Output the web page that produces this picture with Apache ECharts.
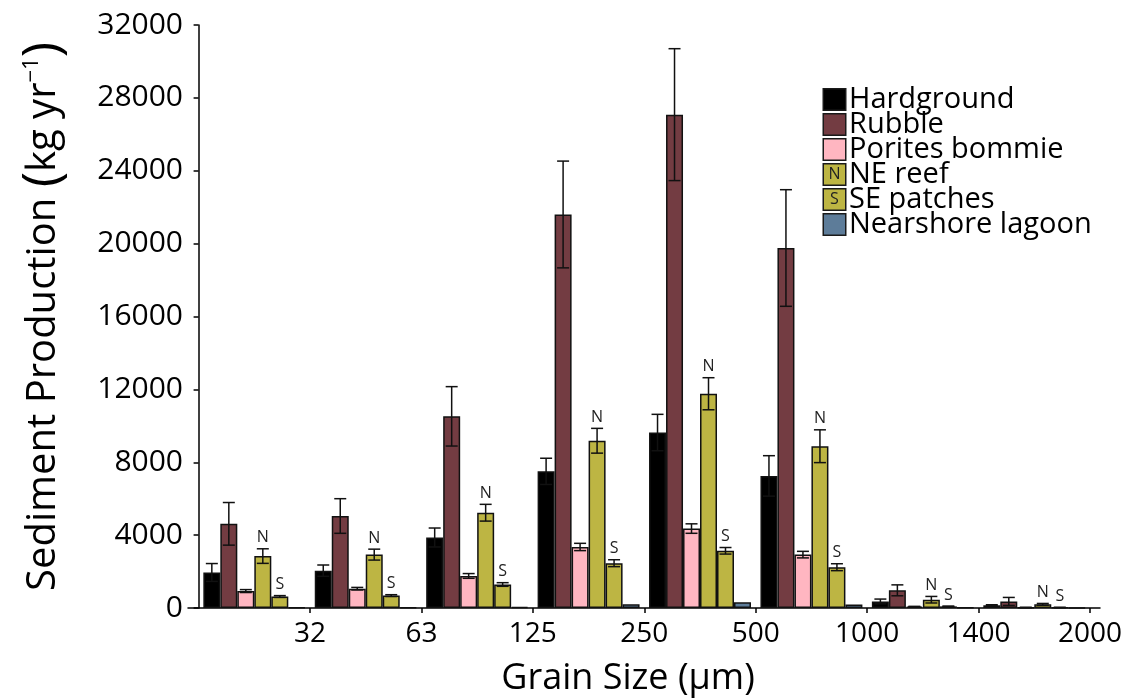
<!DOCTYPE html>
<html>
<head>
<meta charset="utf-8">
<script src="https://cdn.jsdelivr.net/npm/echarts@6/dist/echarts.min.js"></script>
<style>
  html, body { margin: 0; padding: 0; background: #fff; }
  #chart { width: 1130px; height: 700px; }
</style>
</head>
<body>
<div id="chart"></div>
<script>
// Grain size classes (upper bound of each class is the tick label at its right edge)
const sizeClasses = ['<32', '32-63', '63-125', '125-250', '250-500', '500-1000', '1000-1400', '1400-2000'];
const grainTicks = ['32', '63', '125', '250', '500', '1000', '1400', '2000'];
const yTicks = [0, 4000, 8000, 12000, 16000, 20000, 24000, 28000, 32000];

// Sediment production (kg/yr) per habitat, with error half-widths
const hardground    = [1950, 2050, 3870, 7500, 9630, 7250, 360, 150];
const hardgroundErr = [490, 310, 520, 720, 1000, 1110, 130, 30];
const rubble        = [4620, 5050, 10520, 21600, 27080, 19760, 970, 360];
const rubbleErr     = [1170, 950, 1630, 2930, 3620, 3200, 300, 220];
const porites       = [930, 1060, 1760, 3350, 4360, 2930, 80, 30];
const poritesErr    = [80, 70, 130, 200, 260, 180, 10, 5];
const neReef        = [2850, 2930, 5230, 9180, 11760, 8880, 455, 200];
const neReefErr     = [400, 300, 460, 680, 880, 900, 180, 50];
const sePatches     = [630, 680, 1290, 2460, 3140, 2240, 90, 30];
const sePatchesErr  = [50, 50, 100, 190, 180, 190, 15, 5];
const lagoon        = [40, 40, 60, 200, 310, 190, 20, 10];

const seriesNames = ['Hardground', 'Rubble', 'Porites bommie', 'NE reef', 'SE patches', 'Nearshore lagoon'];
const seriesColors = ['#000000', '#733c42', '#ffb6c1', '#bdb543', '#bdb543', '#5d7c99'];
const seriesTags = ['', '', '', 'N', 'S', ''];
const seriesValues = [hardground, rubble, porites, neReef, sePatches, lagoon];
const seriesErrors = [hardgroundErr, rubbleErr, poritesErr, neReefErr, sePatchesErr, null];

const FONT = 'Open Sans';
const CAT_GAP = 0.085;

const chart = echarts.init(document.getElementById('chart'), null, { renderer: 'canvas' });

const barSeries = seriesNames.map((name, i) => ({
  name: name,
  type: 'bar',
  xAxisIndex: 0,
  yAxisIndex: 0,
  data: seriesValues[i],
  barGap: 0,
  barCategoryGap: (CAT_GAP * 100) + '%',
  itemStyle: { color: seriesColors[i], borderColor: '#111', borderWidth: 1.5 },
  emphasis: { disabled: true },
  z: 2
}));

// Error bars (and the N / S markers above the reef bars) drawn through the axes
function errorSeries(idx) {
  const vals = seriesValues[idx];
  const errs = seriesErrors[idx];
  const tag = seriesTags[idx];
  return {
    type: 'custom',
    xAxisIndex: 0,
    yAxisIndex: 0,
    z: 5,
    silent: true,
    data: vals.map((v, i) => [i, v, errs[i]]),
    encode: { x: 0, y: 1 },
    renderItem: function (params, api) {
      const cat = api.value(0);
      const v = api.value(1);
      const e = api.value(2);
      const band = api.size([1, 0])[0];
      const inner = band * (1 - CAT_GAP);
      const bw = inner / seriesNames.length;
      const cx = api.coord([cat, 0])[0] - inner / 2 + bw * (idx + 0.5);
      const yTop = api.coord([cat, v + e])[1];
      const yBot = api.coord([cat, Math.max(v - e, 0)])[1];
      const cap = 6;
      const ls = { stroke: '#111', lineWidth: 1.5 };
      const children = [
        { type: 'line', shape: { x1: cx, y1: yTop, x2: cx, y2: yBot }, style: ls },
        { type: 'line', shape: { x1: cx - cap, y1: yTop, x2: cx + cap, y2: yTop }, style: ls },
        { type: 'line', shape: { x1: cx - cap, y1: yBot, x2: cx + cap, y2: yBot }, style: ls }
      ];
      if (tag) {
        children.push({
          type: 'text',
          style: {
            x: cx, y: yTop - 3, text: tag,
            fill: '#222', fontSize: 16, fontFamily: FONT,
            align: 'center', verticalAlign: 'bottom'
          }
        });
      }
      return { type: 'group', children: children };
    }
  };
}

const errSeries = [0, 1, 2, 3, 4].map(errorSeries);

// Legend entries: coloured box (with N / S marker where used) followed by the name
const legendRich = { txt: { fontSize: 29, fontFamily: FONT, color: '#000', lineHeight: 21, padding: [0, 0, 0, 4] } };
seriesNames.forEach((n, i) => {
  legendRich['b' + i] = {
    width: 21, height: 20, backgroundColor: seriesColors[i],
    borderColor: '#1a1a1a', borderWidth: 1.5,
    align: 'center', fontSize: 16, fontFamily: FONT, color: '#222', lineHeight: 20
  };
});

const option = {
  animation: false,
  backgroundColor: '#fff',
  grid: [
    { left: 198.6, right: 40, top: 25, bottom: 92, outerBoundsMode: 'none', containLabel: false },
    { left: 188, right: 30, top: 25, bottom: 92, outerBoundsMode: 'none', containLabel: false }
  ],
  legend: {
    orient: 'vertical',
    left: 813,
    top: 80,
    itemGap: -4,
    itemWidth: 0,
    itemHeight: 0,
    icon: 'rect',
    selectedMode: false,
    data: seriesNames,
    formatter: function (name) {
      const i = seriesNames.indexOf(name);
      return '{b' + i + '|' + (seriesTags[i] || '\u00a0') + '}{txt|' + name + '}';
    },
    textStyle: { rich: legendRich }
  },
  xAxis: [
    { type: 'category', gridIndex: 0, data: sizeClasses, show: false },
    {
      type: 'value', gridIndex: 1,
      min: -0.095, max: 8.09,
      name: 'Grain Size (\u03bcm)',
      nameLocation: 'middle',
      nameGap: 53,
      nameTextStyle: { fontSize: 36, fontFamily: FONT, color: '#000', padding: [0, 32, 0, 0] },
      axisLine: { show: true, lineStyle: { color: '#000', width: 1.5 } },
      axisTick: { show: true, length: 5, lineStyle: { color: '#000', width: 1.5 }, customValues: [1, 2, 3, 4, 5, 6, 7, 8] },
      axisLabel: {
        customValues: [1, 2, 3, 4, 5, 6, 7, 8],
        formatter: v => grainTicks[Math.round(v) - 1],
        fontSize: 28, fontFamily: FONT, color: '#000', margin: 12
      },
      splitLine: { show: false }
    }
  ],
  yAxis: [
    { type: 'value', gridIndex: 0, min: 0, max: 32000, show: false },
    {
      type: 'value', gridIndex: 1,
      min: 0, max: 32000, interval: 4000,
      name: '{a|Sediment Production }{p|(}{a|kg yr}{s|\u22121}{p|)}',
      nameLocation: 'middle',
      nameGap: 118,
      nameTextStyle: {
        fontFamily: FONT, color: '#000',
        rich: {
          a: { fontSize: 40, fontFamily: FONT, color: '#000' },
          p: { fontSize: 52, fontFamily: FONT, color: '#000' },
          s: { fontSize: 22, fontFamily: FONT, color: '#000', padding: [0, 0, 24, 0] }
        }
      },
      axisLine: { show: true, lineStyle: { color: '#000', width: 1.5 } },
      axisTick: { show: true, length: 5, lineStyle: { color: '#000', width: 1.5 } },
      axisLabel: {
        fontSize: 30, fontFamily: FONT, color: '#000', margin: 5,
        formatter: v => String(v)
      },
      splitLine: { show: false }
    }
  ],
  series: barSeries.concat(errSeries)
};

chart.setOption(option);
</script>
</body>
</html>
